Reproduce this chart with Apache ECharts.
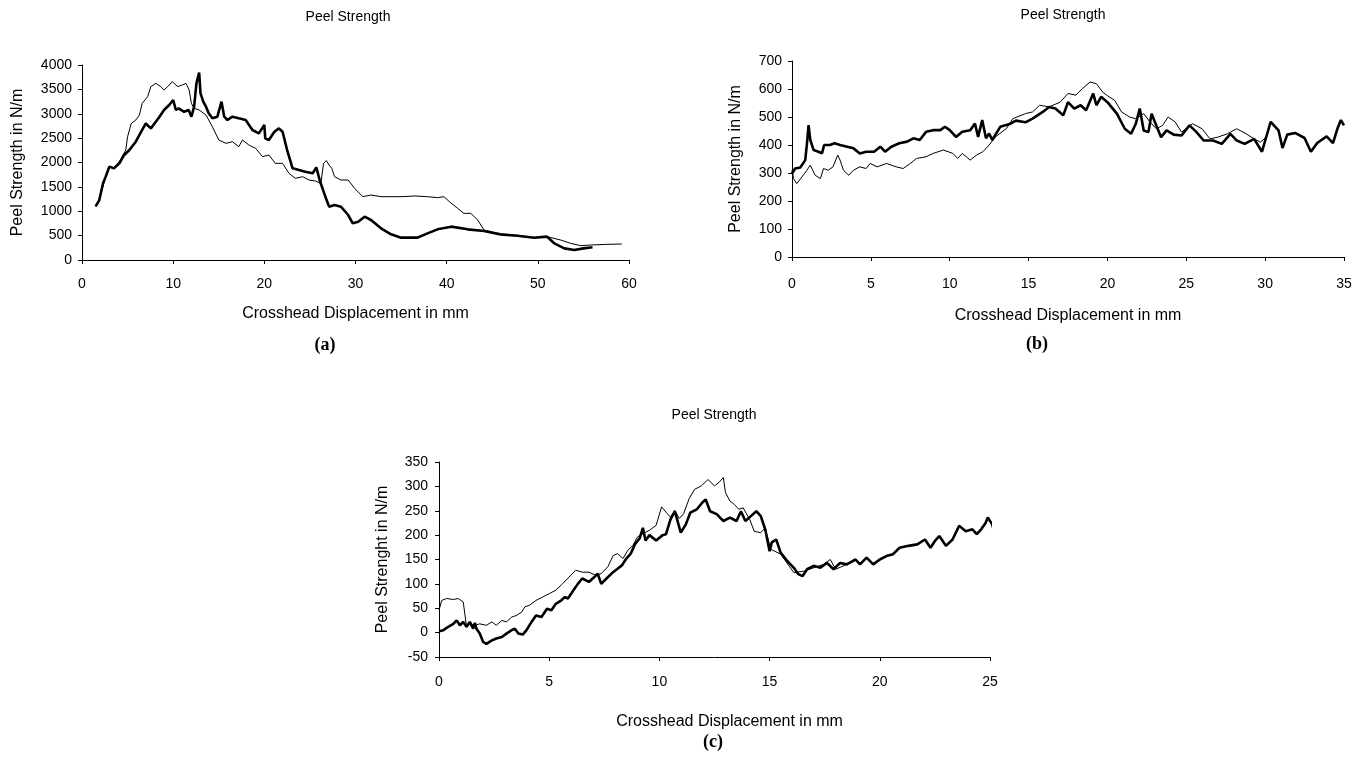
<!DOCTYPE html>
<html>
<head>
<meta charset="utf-8">
<script src="https://cdn.jsdelivr.net/npm/echarts@6/dist/echarts.min.js"></script>
<style>
html,body{margin:0;padding:0;background:#fff;}
#chart{width:1365px;height:757px;}
</style>
</head>
<body>
<div id="chart"></div>
<script>
// ---- Data: [crosshead displacement (mm), peel strength (N/m)] ----
// Panel (a)
var aThick = [[1.5,1100],[1.9,1230],[2.3,1570],[2.6,1710],[3.0,1915],[3.5,1880],[4.1,1983],[4.6,2150],[5.2,2256],[5.9,2427],[6.6,2667],[7.0,2800],[7.55,2700],[8.1,2837],[8.5,2940],[9.0,3077],[9.56,3180],[10.0,3282],[10.3,3077],[10.6,3110],[11.2,3040],[11.7,3077],[12.0,2940],[12.3,3145],[12.55,3624],[12.85,3843],[13.0,3419],[13.3,3248],[13.6,3145],[13.9,3009],[14.3,2906],[14.85,2940],[15.3,3248],[15.6,2940],[15.95,2872],[16.5,2940],[17.2,2906],[17.95,2872],[18.7,2667],[19.4,2598],[20.0,2770],[20.1,2496],[20.5,2461],[21.1,2632],[21.6,2700],[22.0,2632],[22.5,2256],[23.1,1880],[23.8,1846],[24.5,1812],[25.3,1778],[25.7,1900],[26.1,1620],[26.6,1350],[27.1,1094],[27.7,1128],[28.4,1094],[29.2,923],[29.7,752],[30.3,786],[31.0,889],[31.7,820],[32.8,650],[33.9,526],[35.0,458],[36.8,458],[37.9,547],[39.0,629],[40.5,684],[42.3,629],[44.1,595],[45.9,526],[47.75,499],[49.6,458],[51.0,479],[51.8,342],[52.9,239],[54.0,205],[55.0,239],[56.0,260]];
var aThin = [[1.5,1100],[2.0,1300],[2.5,1650],[3.0,1900],[3.6,1900],[4.2,2050],[4.8,2256],[5.0,2530],[5.4,2800],[5.9,2872],[6.3,2974],[6.6,3214],[7.2,3350],[7.55,3556],[8.1,3624],[8.65,3556],[9.0,3487],[9.4,3556],[9.9,3658],[10.5,3556],[11.0,3590],[11.4,3624],[11.75,3487],[12.0,3214],[12.3,3111],[12.85,3077],[13.6,2974],[14.3,2735],[15.0,2461],[15.8,2393],[16.5,2427],[17.2,2325],[17.6,2461],[18.3,2359],[19.05,2290],[19.8,2120],[20.5,2154],[21.2,1983],[22.0,1983],[22.7,1778],[23.4,1675],[24.2,1709],[24.9,1641],[25.6,1620],[26.2,1573],[26.5,1983],[26.8,2040],[27.1,1949],[27.4,1880],[27.7,1709],[28.4,1641],[29.2,1641],[29.9,1470],[30.8,1299],[31.7,1333],[32.8,1299],[33.9,1299],[35.0,1299],[36.5,1313],[37.9,1299],[39.0,1279],[39.7,1299],[40.3,1197],[41.2,1060],[41.9,957],[42.65,957],[43.4,820],[44.1,615],[45.9,530],[47.75,503],[49.6,462],[51.0,479],[52.5,410],[53.6,342],[54.7,294],[55.8,308],[57.6,321],[59.2,328]];
// Panel (b)
var bThick = [[0,298],[0.2,316],[0.53,320],[0.84,346],[0.95,406],[1.05,471],[1.16,418],[1.37,382],[1.68,376],[1.9,370],[2.04,400],[2.4,400],[2.7,406],[3.05,400],[3.5,394],[3.9,388],[4.3,370],[4.7,376],[5.2,376],[5.6,394],[5.9,376],[6.3,394],[6.8,406],[7.3,412],[7.7,424],[8.1,418],[8.5,447],[8.95,453],[9.4,453],[9.7,465],[10.0,453],[10.4,429],[10.8,447],[11.3,453],[11.6,477],[11.8,429],[12.06,489],[12.3,424],[12.5,441],[12.7,418],[13.2,465],[13.8,475],[14.2,487],[14.8,481],[15.25,494],[15.9,518],[16.3,536],[16.7,530],[17.2,506],[17.5,553],[17.9,530],[18.3,542],[18.65,524],[19.1,584],[19.3,542],[19.6,572],[20.0,553],[20.6,512],[21.1,458],[21.5,440],[21.8,476],[22.05,530],[22.3,452],[22.6,446],[22.8,512],[23.1,470],[23.4,428],[23.75,452],[24.2,437],[24.7,434],[25.2,470],[25.65,446],[26.1,416],[26.7,416],[27.25,404],[27.8,440],[28.2,416],[28.7,404],[29.3,422],[29.8,376],[30.35,483],[30.85,452],[31.1,389],[31.4,437],[31.9,443],[32.5,425],[32.9,376],[33.3,407],[33.9,431],[34.3,407],[34.6,461],[34.8,489],[35.0,470]];
var bThin = [[0,310],[0.1,280],[0.3,262],[0.63,286],[0.95,310],[1.16,328],[1.47,292],[1.8,280],[2.0,316],[2.3,310],[2.6,322],[2.9,364],[3.05,346],[3.26,310],[3.6,292],[3.9,310],[4.3,322],[4.7,316],[4.95,334],[5.4,322],[6.0,334],[6.6,322],[7.05,316],[7.5,334],[7.9,352],[8.5,358],[8.95,370],[9.6,382],[10.2,370],[10.5,352],[10.8,370],[11.3,346],[11.7,364],[12.1,376],[12.5,400],[12.9,429],[13.6,459],[14.0,494],[14.8,512],[15.25,518],[15.7,542],[16.3,536],[17.0,553],[17.5,584],[18.0,578],[18.4,601],[18.9,625],[19.3,619],[19.7,589],[20.1,572],[20.45,560],[20.9,518],[21.4,500],[21.8,494],[22.3,512],[22.7,482],[23.1,458],[23.5,470],[23.85,500],[24.3,482],[24.7,446],[25.1,464],[25.4,476],[26.0,458],[26.5,422],[27.0,428],[27.6,440],[28.2,458],[28.8,440],[29.3,422],[29.7,410],[30.1,430]];
// Panel (c)
var cThick = [[0,3],[0.2,5],[0.42,12],[0.65,18],[0.8,25],[0.95,15],[1.1,22],[1.25,12],[1.4,22],[1.55,8],[1.63,20],[1.7,8],[1.85,-2],[2.0,-19],[2.15,-23],[2.4,-16],[2.6,-12],[2.85,-9],[3.06,-2],[3.3,5],[3.44,8],[3.6,-2],[3.8,-4],[3.97,5],[4.2,22],[4.4,35],[4.65,32],[4.9,49],[5.1,46],[5.3,59],[5.55,66],[5.7,73],[5.85,70],[6.1,87],[6.3,100],[6.5,111],[6.8,104],[7.05,114],[7.2,121],[7.36,100],[7.6,111],[7.9,124],[8.1,131],[8.3,138],[8.5,152],[8.7,162],[8.9,182],[9.1,193],[9.25,215],[9.37,189],[9.55,200],[9.85,189],[10.15,200],[10.3,202],[10.5,232],[10.7,249],[10.97,205],[11.2,222],[11.4,246],[11.7,253],[11.95,267],[12.1,273],[12.3,249],[12.6,243],[12.9,229],[13.2,236],[13.5,229],[13.7,249],[13.9,229],[14.15,239],[14.4,249],[14.6,239],[14.8,212],[15.0,167],[15.1,185],[15.3,191],[15.5,164],[15.8,147],[16.1,133],[16.3,120],[16.5,116],[16.7,130],[17.0,137],[17.3,133],[17.6,143],[17.9,130],[18.2,143],[18.5,140],[18.9,150],[19.1,140],[19.4,154],[19.7,140],[20.0,150],[20.3,157],[20.6,161],[20.9,174],[21.3,178],[21.7,181],[22.05,191],[22.3,174],[22.5,188],[22.7,198],[23.0,178],[23.3,191],[23.6,219],[23.9,208],[24.2,212],[24.4,202],[24.6,212],[24.8,225],[24.9,236],[25.1,222],[25.2,205]];
var cThin = [[0,46],[0.12,66],[0.35,70],[0.65,68],[0.87,70],[1.1,63],[1.18,66],[1.25,12],[1.4,18],[1.63,15],[1.85,18],[2.15,15],[2.4,22],[2.6,15],[2.85,25],[3.06,22],[3.3,32],[3.5,35],[3.75,42],[3.9,53],[4.1,56],[4.4,66],[4.7,73],[5.0,80],[5.3,87],[5.6,100],[5.9,114],[6.2,128],[6.5,124],[6.8,124],[7.1,118],[7.36,121],[7.66,135],[7.9,158],[8.1,162],[8.35,152],[8.57,169],[8.8,179],[9.0,196],[9.25,203],[9.55,210],[9.85,220],[10.1,258],[10.3,247],[10.5,237],[10.7,251],[10.9,234],[11.1,244],[11.35,275],[11.6,294],[11.9,301],[12.2,314],[12.5,301],[12.7,308],[12.9,318],[13.0,287],[13.2,270],[13.4,263],[13.6,253],[13.8,256],[14.1,232],[14.3,208],[14.6,205],[14.8,215],[15.05,171],[15.5,161],[16.1,123],[16.55,126],[17.0,133],[17.45,140],[17.75,150],[18.0,130],[18.5,140]];

// Axis ranges and tick labels
var xRanges = [[0,60,10],[0,35,5],[0,25,5]];
var yRanges = [[0,4000,500],[0,700,100],[-50,350,50]];
var yNames = ['Peel Strength in N/m','Peel Strength in N/m','Peel Strenght in N/m'];
var xName = 'Crosshead Displacement in mm';
var chartTitle = 'Peel Strength';
var panelLabels = ['(a)','(b)','(c)'];

var FONT = 'Liberation Sans, Arial, sans-serif';
var grids = [
  {left:82, top:65, width:547, height:195},
  {left:792, top:61, width:552, height:196},
  {left:439, top:462, width:551, height:195}
];
var xNameGaps = [46, 51, 57];
var xNamePads = [[0,0,0,0],[0,0,0,0],[0,0,0,30]];
var yNameGaps = [56, 48, 48];
var xLabelMargins = [17, 20, 18];
var yLabelMargins = [10, 10, 11];

function xAxis(i){
  return {
    type:'value', gridIndex:i, min:xRanges[i][0], max:xRanges[i][1], interval:xRanges[i][2],
    name:xName, nameLocation:'middle', nameGap:xNameGaps[i],
    nameTextStyle:{color:'#000', fontSize:16, fontFamily:FONT, padding:xNamePads[i]},
    axisLine:{onZero:false, lineStyle:{color:'#000', width:1}},
    axisTick:{length:4, lineStyle:{color:'#000'}},
    axisLabel:{color:'#000', fontSize:14, fontFamily:FONT, margin:xLabelMargins[i], formatter:function(v){return String(v);}},
    splitLine:{show:false}
  };
}
function yAxis(i){
  return {
    type:'value', gridIndex:i, min:yRanges[i][0], max:yRanges[i][1], interval:yRanges[i][2],
    name:yNames[i], nameLocation:'middle', nameGap:yNameGaps[i], nameRotate:90,
    nameTextStyle:{color:'#000', fontSize:16, fontFamily:FONT},
    axisLine:{show:true, onZero:false, lineStyle:{color:'#000', width:1}},
    axisTick:{show:true, length:4, lineStyle:{color:'#000'}},
    axisLabel:{color:'#000', fontSize:14, fontFamily:FONT, margin:yLabelMargins[i], formatter:function(v){return String(v);}},
    splitLine:{show:false}
  };
}
function line(i, data, w){
  return {type:'line', xAxisIndex:i, yAxisIndex:i, data:data, showSymbol:false, symbol:'none',
    lineStyle:{color:'#000', width:w}, z: w>1.5?3:2, animation:false};
}
var titleStyle = {fontSize:14, fontWeight:'normal', color:'#000', fontFamily:FONT};
var labelStyle = {fontSize:18, fontWeight:'bold', color:'#000', fontFamily:'Liberation Serif, Times New Roman, serif'};

var option = {
  backgroundColor:'#fff',
  animation:false,
  title:[
    {text:chartTitle, left:343, top:5, textAlign:'center', textStyle:titleStyle},
    {text:chartTitle, left:1058, top:3, textAlign:'center', textStyle:titleStyle},
    {text:chartTitle, left:709, top:403, textAlign:'center', textStyle:titleStyle},
    {text:panelLabels[0], left:320, top:331, textAlign:'center', textStyle:labelStyle},
    {text:panelLabels[1], left:1032, top:330, textAlign:'center', textStyle:labelStyle},
    {text:panelLabels[2], left:708, top:728, textAlign:'center', textStyle:labelStyle}
  ],
  grid:grids,
  xAxis:[xAxis(0), xAxis(1), xAxis(2)],
  yAxis:[yAxis(0), yAxis(1), yAxis(2)],
  series:[
    line(0, aThin, 1), line(0, aThick, 2.6),
    line(1, bThin, 1), line(1, bThick, 2.6),
    line(2, cThin, 1), line(2, cThick, 2.6)
  ]
};
var chart = echarts.init(document.getElementById('chart'), null, {renderer:'canvas'});
chart.setOption(option);
</script>
</body>
</html>
